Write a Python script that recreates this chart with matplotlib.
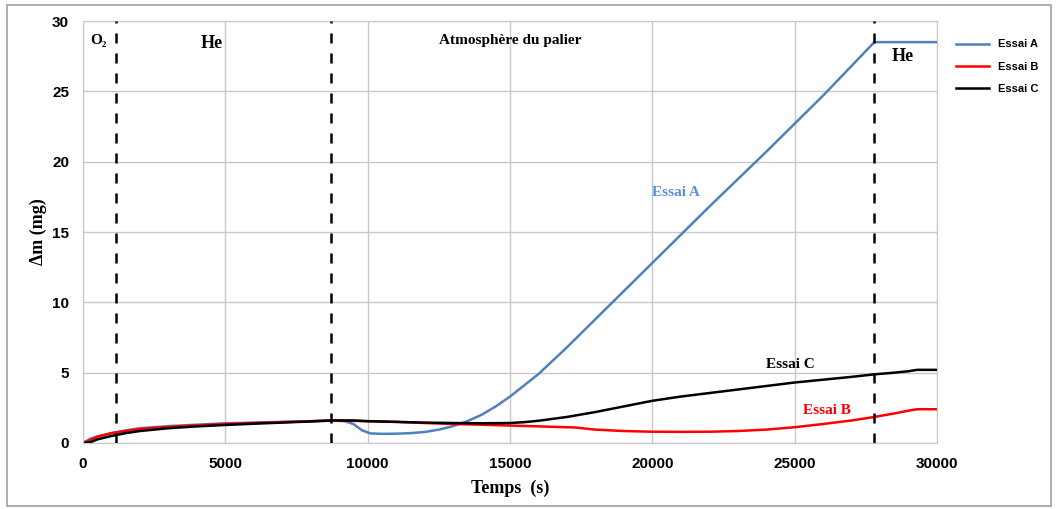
import numpy as np
import matplotlib.pyplot as plt
from matplotlib.patches import Rectangle

# Values (time in s, mass gain in mg)
t_a = [0, 250, 500, 1000, 1500, 2000, 3000, 4000, 5000, 6000, 7000, 8000, 8700, 9200,
       9500, 9800, 10100, 10500, 11000, 11500, 12000, 12500, 13000, 13500, 14000, 14500,
       15000, 15500, 16000, 17000, 18000, 19000, 20000, 22000, 24000, 26000, 27800,
       28000, 29000, 30000]
m_a = [0, 0.3, 0.45, 0.7, 0.9, 1.05, 1.2, 1.3, 1.4, 1.45, 1.5, 1.55, 1.6, 1.55,
       1.35, 0.9, 0.68, 0.65, 0.66, 0.7, 0.78, 0.95, 1.2, 1.55, 2.0, 2.6,
       3.3, 4.1, 4.9, 6.8, 8.8, 10.8, 12.8, 16.8, 20.7, 24.7, 28.5,
       28.5, 28.5, 28.5]

t_b = [0, 250, 500, 1000, 1500, 2000, 3000, 4000, 5000, 6000, 7000, 8000, 9000, 10000,
       11000, 12000, 13000, 14000, 15000, 16000, 17300, 18000, 19000, 20000, 21000,
       22000, 23000, 24000, 25000, 26000, 27000, 27800, 28500, 29000, 29300, 30000]
m_b = [0, 0.2, 0.45, 0.7, 0.85, 1.0, 1.15, 1.25, 1.35, 1.42, 1.48, 1.55, 1.6, 1.55,
       1.5, 1.42, 1.35, 1.3, 1.24, 1.18, 1.1, 0.95, 0.85, 0.8, 0.79,
       0.8, 0.85, 0.95, 1.12, 1.35, 1.6, 1.85, 2.1, 2.3, 2.4, 2.4]

t_c = [0, 250, 500, 1000, 1500, 2000, 3000, 4000, 5000, 6000, 7000, 8000, 8700, 9500,
       10000, 11000, 12000, 13000, 14000, 15000, 15500, 16000, 17000, 18000, 19000,
       20000, 21000, 22000, 23000, 24000, 25000, 26000, 27000, 27800, 28500, 29000,
       29300, 30000]
m_c = [0, 0.05, 0.25, 0.5, 0.7, 0.85, 1.05, 1.18, 1.28, 1.37, 1.45, 1.53, 1.6, 1.6,
       1.55, 1.5, 1.45, 1.42, 1.4, 1.42, 1.48, 1.58, 1.85, 2.2, 2.6,
       3.0, 3.3, 3.55, 3.8, 4.05, 4.3, 4.5, 4.7, 4.88, 5.0, 5.1,
       5.2, 5.2]

# Atmosphere change times
t_switch = [1150, 8700, 27800]

plt.rcParams['font.family'] = ['Liberation Sans', 'DejaVu Sans']

fig = plt.figure(figsize=(10.56, 5.09), dpi=100)
ax = fig.add_axes([0.0786, 0.1297, 0.8087, 0.829])

ax.plot(t_a, m_a, color='#4F81BD', lw=1.8, label='Essai A')
ax.plot(t_b, m_b, color='#FF0000', lw=1.8, label='Essai B')
ax.plot(t_c, m_c, color='#000000', lw=1.8, label='Essai C')

for ts in t_switch:
    ax.axvline(ts, color='black', ls=(0, (4, 4)), lw=1.8, zorder=4)

ax.set_xlim(0, 30000)
ax.set_ylim(0, 30)
ax.set_xticks(np.arange(0, 30001, 5000))
ax.set_yticks(np.arange(0, 31, 5))
ax.grid(True, color='#C8C8C8', lw=1)
ax.set_axisbelow(True)
ax.tick_params(length=0, labelsize=11, pad=10)
for lab in ax.get_xticklabels() + ax.get_yticklabels():
    lab.set_fontweight('bold')
for sp in ax.spines.values():
    sp.set_color('#C8C8C8')

serif = ['Liberation Serif', 'DejaVu Serif']
ax.set_xlabel('Temps  (s)', family=serif, fontweight='bold', fontsize=13, labelpad=6)
ax.set_ylabel('Δm (mg)', family=serif, fontweight='bold', fontsize=13, labelpad=4)

ax.text(250, 28.6, 'O₂', family=serif, fontweight='bold', fontsize=11, va='center')
ax.text(4150, 28.4, 'He', family=serif, fontweight='bold', fontsize=13, va='center')
ax.text(15000, 28.6, 'Atmosphère du palier', family=serif, fontweight='bold', fontsize=11,
        va='center', ha='center')
ax.text(28400, 27.5, 'He', family=serif, fontweight='bold', fontsize=13, va='center')
ax.text(20000, 17.8, 'Essai A', family=serif, fontweight='bold', fontsize=11,
        color='#5B8FD6', va='center')
ax.text(24000, 5.6, 'Essai C', family=serif, fontweight='bold', fontsize=11,
        color='black', va='center')
ax.text(25300, 2.3, 'Essai B', family=serif, fontweight='bold', fontsize=11,
        color='#FF0000', va='center')

leg = ax.legend(loc='upper left', bbox_to_anchor=(1.01, 0.98), frameon=False,
                fontsize=8, handlelength=3, labelspacing=1.1)
for txt in leg.get_texts():
    txt.set_fontweight('bold')

fig.patches.append(Rectangle((0.007, 0.006), 0.988, 0.984, transform=fig.transFigure,
                             fill=False, edgecolor='#A0A0A0', lw=1.2))

fig.savefig('out.png', dpi=100)
